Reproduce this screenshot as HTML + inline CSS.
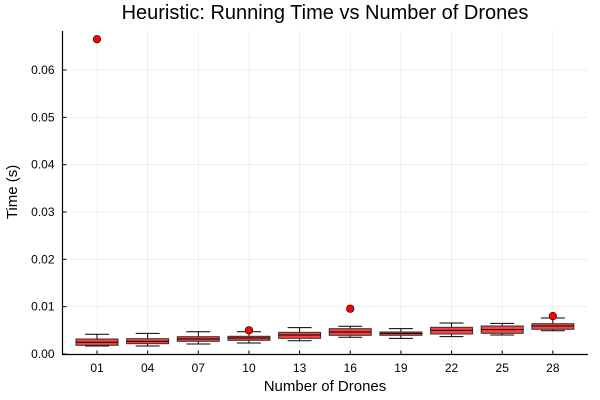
<!DOCTYPE html>
<html><head><meta charset="utf-8"><style>
body{margin:0;background:#fff}
svg{display:block;font-family:"Liberation Sans","DejaVu Sans",sans-serif}
</style></head><body>
<svg id="chart" width="600" height="400">
<text x="325" y="19" text-anchor="middle" font-size="20">Heuristic: Running Time vs Number of Drones</text>
<text x="325" y="391" text-anchor="middle" font-size="15">Number of Drones</text>
<text transform="translate(17,192) rotate(-90)" text-anchor="middle" font-size="15">Time (s)</text>
<g id="grid"></g><g id="marks"></g><g id="axes"></g>
</svg>
<script>
const categories=["01","04","07","10","13","16","19","22","25","28"];
const whiskerLow=[0.00169,0.00169,0.00211,0.00232,0.00281,0.00353,0.00331,0.00366,0.00401,0.00492];
const q1=[0.00184,0.00218,0.00268,0.00289,0.00331,0.00395,0.00395,0.00423,0.00437,0.00522];
const medians=[0.00247,0.00268,0.00317,0.00338,0.00401,0.00465,0.00437,0.0050,0.00514,0.00592];
const q3=[0.00317,0.00323,0.00366,0.00374,0.00458,0.00535,0.00465,0.00564,0.00592,0.0064];
const whiskerHigh=[0.00416,0.00437,0.0047,0.0047,0.00556,0.00585,0.00535,0.00655,0.00648,0.0076];
const outlierCats=[0,3,5,9];
const outlierVals=[0.0665,0.0050,0.00957,0.0080];
const yTicks=[0,0.01,0.02,0.03,0.04,0.05,0.06];
const yTickLabels=["0.00","0.01","0.02","0.03","0.04","0.05","0.06"];

const NS="http://www.w3.org/2000/svg";
const L=62.5,R=588,T=31,B=354.5;
const y=v=>354-v*4733;
const x=i=>97+i*50.65;
function mk(p,tag,a){const e=document.createElementNS(NS,tag);for(const k in a)e.setAttribute(k,a[k]);p.appendChild(e);return e;}
const grid=document.getElementById('grid'),marks=document.getElementById('marks'),axes=document.getElementById('axes');
categories.forEach((c,i)=>{
  const g=mk(grid,'line',{x1:x(i),x2:x(i),y1:T,y2:B,stroke:'#000','stroke-opacity':0.1,'stroke-width':0.6});
  
  
  const t=mk(axes,'line',{x1:x(i),x2:x(i),y1:B,y2:B-4,stroke:'#000','stroke-width':1});
  
  
  const lb=mk(axes,'text',{x:x(i),y:372,'text-anchor':'middle','font-size':12});
  lb.textContent=c;
  
  
});
yTicks.forEach((v,i)=>{
  const g=mk(grid,'line',{x1:L,x2:R,y1:y(v),y2:y(v),stroke:'#000','stroke-opacity':0.1,'stroke-width':0.6});
  
  
  const t=mk(axes,'line',{x1:L,x2:L+4,y1:y(v),y2:y(v),stroke:'#000','stroke-width':1});
  
  
  const lb=mk(axes,'text',{x:L-8,y:y(v)+4,'text-anchor':'end','font-size':12});
  lb.textContent=yTickLabels[i];
  
  
});
const ax=mk(axes,'path',{d:`M${L},${T} V${B} H${R}`,fill:'none',stroke:'#000','stroke-width':1.2});


const hw=21,cw=12;
categories.forEach((c,i)=>{
  const g=mk(marks,'g',{});
  
  
  const cx=x(i);
  mk(g,'path',{d:`M${cx},${y(q3[i])}V${y(whiskerHigh[i])}M${cx-cw},${y(whiskerHigh[i])}H${cx+cw}M${cx},${y(q1[i])}V${y(whiskerLow[i])}M${cx-cw},${y(whiskerLow[i])}H${cx+cw}`,stroke:'#000','stroke-width':1,fill:'none'});
  mk(g,'rect',{x:cx-hw,y:y(q3[i]),width:2*hw,height:Math.max(1,y(q1[i])-y(q3[i])),fill:'#ff2020','fill-opacity':0.85,stroke:'#333','stroke-width':1});
  mk(g,'line',{x1:cx-hw,x2:cx+hw,y1:y(medians[i]),y2:y(medians[i]),stroke:'#000','stroke-width':1});
});
outlierCats.forEach((ci,k)=>{
  const o=mk(marks,'circle',{cx:x(ci),cy:y(outlierVals[k]),r:3.8,fill:'#f00',stroke:'#000','stroke-width':0.6});
  
  
});
</script>
</body></html>
